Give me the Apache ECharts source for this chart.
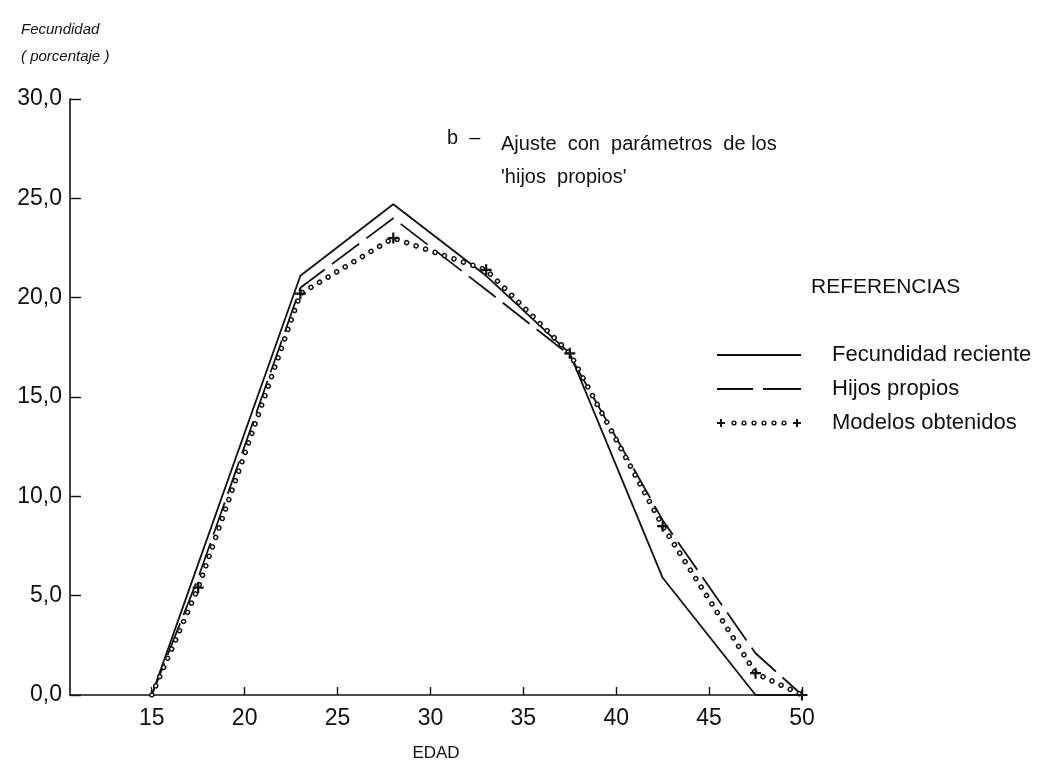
<!DOCTYPE html>
<html>
<head>
<meta charset="utf-8">
<script src="https://cdn.jsdelivr.net/npm/echarts@6/dist/echarts.min.js"></script>
<style>
  html, body { margin: 0; padding: 0; background: #fff; }
  #chart { width: 1059px; height: 767px; }
</style>
</head>
<body>
<div id="chart"></div>
<script>
// Edades en que se trazan los vértices de cada curva
const edades = [15, 17.5, 23, 28, 33, 37.5, 42.5, 47.5, 50];
// Fecundidad por edad (porcentaje)
const fecundidadReciente = [0, 6.6, 21.1, 24.7, 21.1, 17.2, 5.9, 0, 0];
const hijosPropios       = [0, 5.9, 20.5, 24.0, 20.4, 17.1, 8.8, 2.1, 0];
const modelosObtenidos   = [0, 5.4, 20.2, 23.0, 21.4, 17.2, 8.5, 1.1, 0];
// Marcas del eje de edades
const marcasEdad = [15, 20, 25, 30, 35, 40, 45, 50];
const nombres = ['Fecundidad reciente', 'Hijos propios', 'Modelos obtenidos'];

const FONT = '"Liberation Sans", Arial, sans-serif';
const INK = '#111';
const pares = vals => edades.map((e, i) => [e, vals[i]]);

// cruz fina usada como marca de los modelos
const CRUZ = 'path://M4,0H6V4H10V6H6V10H4V6H0V4H4Z';

// iconos de la leyenda
const iconoContinuo = 'path://M0,0H84V2H0Z';
const iconoTrazos = 'path://M0,0H36V2H0Z M46,0H84V2H46Z';
function anillo(cx, cy) {
  const R = 2.6, r = 1.2;
  return 'M' + (cx - R) + ',' + cy + 'A' + R + ',' + R + ' 0 1 1 ' + (cx + R) + ',' + cy +
         'A' + R + ',' + R + ' 0 1 1 ' + (cx - R) + ',' + cy + 'Z' +
         'M' + (cx - r) + ',' + cy + 'A' + r + ',' + r + ' 0 1 0 ' + (cx + r) + ',' + cy +
         'A' + r + ',' + r + ' 0 1 0 ' + (cx - r) + ',' + cy + 'Z';
}
function cruz(x0) {
  return 'M' + (x0 + 3) + ',0H' + (x0 + 5) + 'V3H' + (x0 + 8) + 'V5H' + (x0 + 5) + 'V8H' +
         (x0 + 3) + 'V5H' + x0 + 'V3H' + (x0 + 3) + 'Z';
}
let iconoModelos = 'path://' + cruz(0);
for (let k = 0; k < 6; k++) iconoModelos += anillo(17 + k * 10, 4);
iconoModelos += cruz(76);

const chart = echarts.init(document.getElementById('chart'), null, { renderer: 'canvas' });

chart.setOption({
  animation: false,
  backgroundColor: '#fff',
  title: [
    {
      text: 'Fecundidad\n( porcentaje )', left: 16, top: 11,
      textStyle: { fontFamily: FONT, fontSize: 15, fontStyle: 'italic', fontWeight: 'normal', color: INK, lineHeight: 27 }
    },
    {
      text: 'b  –', left: 442, top: 123,
      textStyle: { fontFamily: FONT, fontSize: 20, fontWeight: 'normal', color: INK }
    },
    {
      text: "Ajuste  con  parámetros  de los\n'hijos  propios'", left: 496, top: 123,
      textStyle: { fontFamily: FONT, fontSize: 20, fontWeight: 'normal', color: INK, lineHeight: 33 }
    },
    {
      text: 'REFERENCIAS', left: 806, top: 272,
      textStyle: { fontFamily: FONT, fontSize: 21, fontWeight: 'normal', color: INK }
    }
  ],
  legend: {
    orient: 'vertical',
    left: 712, top: 338,
    itemWidth: 84, itemHeight: 12, itemGap: 10,
    selectedMode: false,
    itemStyle: { color: INK, borderWidth: 0 },
    textStyle: { fontFamily: FONT, fontSize: 22, color: INK, lineHeight: 24, padding: [0, 0, 0, 26] },
    data: [
      { name: nombres[0], icon: iconoContinuo },
      { name: nombres[1], icon: iconoTrazos },
      { name: nombres[2], icon: iconoModelos }
    ]
  },
  grid: { left: 70, right: 257, top: 99, bottom: 67 },
  xAxis: {
    type: 'value', min: 10.6, max: 50,
    name: 'EDAD', nameLocation: 'middle', nameGap: 50,
    nameTextStyle: { fontFamily: FONT, fontSize: 17, color: INK },
    axisLine: { show: true, lineStyle: { color: INK, width: 1.6 } },
    axisTick: { show: true, inside: true, length: 8, customValues: marcasEdad, lineStyle: { color: INK, width: 1.4 } },
    axisLabel: { customValues: marcasEdad, fontFamily: FONT, fontSize: 23, color: INK, margin: 12 },
    splitLine: { show: false }
  },
  yAxis: {
    type: 'value', min: 0, max: 30, interval: 5,
    axisLine: { show: true, lineStyle: { color: INK, width: 1.6 } },
    axisTick: { show: true, inside: true, length: 11, lineStyle: { color: INK, width: 1.4 } },
    axisLabel: {
      fontFamily: FONT, fontSize: 23, color: INK, margin: 8,
      formatter: v => v.toFixed(1).replace('.', ',')
    },
    splitLine: { show: false }
  },
  series: [
    {
      name: nombres[0], type: 'line', data: pares(fecundidadReciente),
      symbol: 'none', z: 3,
      lineStyle: { color: INK, width: 1.8, type: 'solid' },
      itemStyle: { color: INK }
    },
    {
      name: nombres[1], type: 'line', data: pares(hijosPropios),
      symbol: 'none', z: 3,
      lineStyle: { color: INK, width: 1.8, type: [34, 9] },
      itemStyle: { color: INK }
    },
    {
      // puntos negros bajo los anillos de los modelos
      name: 'modelos-base', type: 'line', data: pares(modelosObtenidos),
      symbol: 'none', z: 4, silent: true,
      lineStyle: { color: INK, width: 5.5, type: [0.01, 10], cap: 'round' }
    },
    {
      name: nombres[2], type: 'line', data: pares(modelosObtenidos),
      z: 5,
      symbol: (val, p) => (p.dataIndex === 0 ? 'none' : CRUZ),
      symbolSize: 11,
      lineStyle: { color: '#fff', width: 2.6, type: [0.01, 10], cap: 'round' },
      itemStyle: { color: INK, borderWidth: 0 }
    }
  ]
});
</script>
</body>
</html>
